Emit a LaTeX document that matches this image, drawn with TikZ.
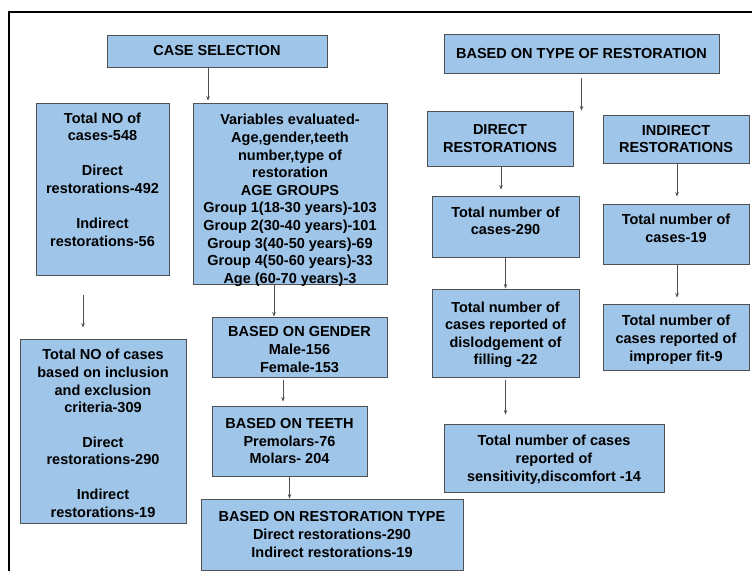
\documentclass[tikz,border=0pt]{standalone}
\usepackage{fontspec}
\setmainfont{Liberation Sans}
\usetikzlibrary{arrows.meta,calc}
\definecolor{boxblue}{HTML}{9FC5E8}
\definecolor{boxline}{HTML}{505050}
% text block moved up or down inside its box
\newcommand{\moved}[2]{\raisebox{#1}[\height][\depth]{\begin{tabular}{@{}c@{}}#2\end{tabular}}}
\begin{document}
\begin{tikzpicture}[x=1pt,y=-1pt,>={Stealth[length=4.5pt,width=3.5pt]},
  box/.style={draw=boxline,fill=boxblue,line width=.9pt,align=center,inner sep=1pt,
    font=\bfseries\fontsize{14.5}{17.6}\selectfont},
  flow/.style={->,draw=boxline,line width=.7pt}]
  \useasboundingbox (0,0) rectangle (752,571);
  \draw[line width=1.4pt] (9,571)--(9,12)--(752,12);
  % left column
  \node[box,minimum width=220,minimum height=32] (sel) at (217,51) {CASE SELECTION};
  \node[box,minimum width=133,minimum height=172] (tot) at (102.5,189)
    {\moved{8pt}{Total NO of\\cases-548\\[17.5pt]Direct\\restorations-492\\[17.5pt]Indirect\\restorations-56}};
  \node[box,minimum width=166,minimum height=184] (incl) at (103,431)
    {\moved{-4pt}{Total NO of cases\\based on inclusion\\and exclusion\\criteria-309\\[17pt]Direct\\restorations-290\\[17pt]Indirect\\restorations-19}};
  % middle column
  \node[box,minimum width=194,minimum height=181] (var) at (290,193.5)
    {\moved{-7pt}{Variables evaluated-\\Age,gender,teeth\\number,type of\\restoration\\AGE GROUPS\\Group 1(18-30 years)-103\\Group 2(30-40 years)-101\\Group 3(40-50 years)-69\\Group 4(50-60 years)-33\\Age (60-70 years)-3}};
  \node[box,minimum width=175,minimum height=60] (gen) at (299.5,347) {\moved{-4pt}{BASED ON GENDER\\Male-156\\Female-153}};
  \node[box,minimum width=155,minimum height=70] (teeth) at (289.5,441) {BASED ON TEETH\\Premolars-76\\Molars- 204};
  \node[box,minimum width=262,minimum height=71] (rtype) at (332,534.5)
    {BASED ON RESTORATION TYPE\\Direct restorations-290\\Indirect restorations-19};
  % right side
  \node[box,minimum width=275,minimum height=39] (typ) at (581.5,53.5) {BASED ON TYPE OF RESTORATION};
  \node[box,minimum width=146,minimum height=55] (dir) at (500,138.5) {DIRECT\\RESTORATIONS};
  \node[box,minimum width=146,minimum height=48] (ind) at (676,139) {INDIRECT\\RESTORATIONS};
  \node[box,minimum width=147,minimum height=61] (n290) at (505.5,226.5) {\moved{4pt}{Total number of\\cases-290}};
  \node[box,minimum width=146,minimum height=60] (n19) at (676,234) {\moved{4pt}{Total number of\\cases-19}};
  \node[box,minimum width=147,minimum height=88] (dis) at (505.5,333)
    {\moved{-2pt}{Total number of\\cases reported of\\dislodgement of\\filling -22}};
  \node[box,minimum width=146,minimum height=66] (fit) at (676,337)
    {\moved{-3pt}{Total number of\\cases reported of\\improper fit-9}};
  \node[box,minimum width=220,minimum height=68] (sen) at (554,458)
    {\moved{-2pt}{Total number of cases\\reported of\\sensitivity,discomfort -14}};
  % arrows
  \draw[flow,shorten >=2pt] ([xshift=-9pt]sel.south) -- ([xshift=-9pt]sel.south |- var.north);
  \draw[flow,shorten <=20pt,shorten >=11pt] ([xshift=-19.5pt]tot.south) -- ([xshift=-19.5pt]tot.south |- incl.north);
  \draw[flow] ([xshift=-16pt]var.south) -- ([xshift=-16pt]var.south |- gen.north);
  \draw[flow,shorten <=3pt,shorten >=4pt] ([xshift=-16.5pt]gen.south) -- ([xshift=-16.5pt]gen.south |- teeth.north);
  \draw[flow] (teeth.south) -- (teeth.south |- rtype.north);
  \draw[flow,shorten <=5pt] (typ.south) -- (typ.south |- dir.north);
  \draw[flow,shorten >=6pt] ([xshift=1pt]dir.south) -- ([xshift=1pt]dir.south |- n290.north);
  \draw[flow,shorten >=7pt] ([xshift=1pt]ind.south) -- ([xshift=1pt]ind.south |- n19.north);
  \draw[flow] (n290.south) -- (n290.south |- dis.north);
  \draw[flow,shorten >=6pt] ([xshift=1pt]n19.south) -- ([xshift=1pt]n19.south |- fit.north);
  \draw[flow,shorten <=3pt,shorten >=9pt] (dis.south) -- (dis.south |- sen.north);
\end{tikzpicture}
\end{document}
